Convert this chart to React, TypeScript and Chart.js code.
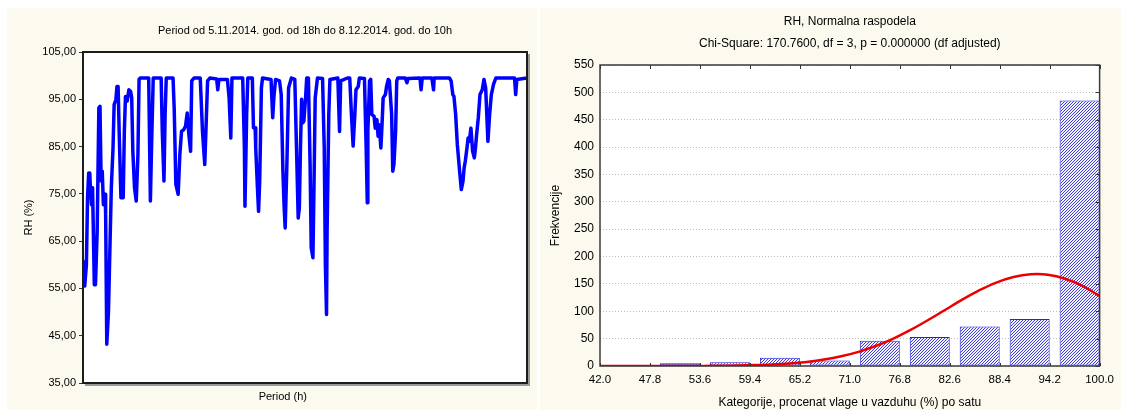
import React, { useEffect, useRef } from "react";
import { Chart, registerables } from "chart.js";

Chart.register(...registerables);

const FONT = "'Liberation Sans', Arial, Helvetica, sans-serif";
const CREAM = "#fcf9ee";

// ---------------- Left chart: RH time series ----------------
const leftTitle = "Period od 5.11.2014. god. od 18h do 8.12.2014. god. do 10h";
const leftYTitle = "RH (%)";
const leftXTitle = "Period (h)";
const totalHours = 784;
const leftYTicks = [35, 45, 55, 65, 75, 85, 95, 105];
const leftYTickLabels = ["35,00", "45,00", "55,00", "65,00", "75,00", "85,00", "95,00", "105,00"];

// hour from start of period
const rhHours = [
  0, 3, 6, 8, 10, 12, 13, 15, 16, 17, 20, 22, 25, 28, 30, 32, 34, 36, 39, 40,
  42, 45, 47, 50, 53, 55, 58, 60, 62, 64, 67, 71, 73, 75, 78, 81, 84, 86, 88, 91,
  94, 97, 99, 101, 116, 119, 121, 124, 138, 140, 143, 145, 147, 159, 161, 164, 168, 171, 174, 178,
  181, 184, 187, 190, 192, 196, 207, 211, 215, 217, 220, 224, 236, 238, 240, 255, 258, 261, 263, 282,
  285, 286, 289, 291, 299, 301, 304, 305, 308, 310, 312, 315, 317, 332, 335, 337, 340, 347, 350, 353,
  355, 357, 360, 363, 368, 374, 377, 380, 382, 384, 386, 388, 390, 393, 395, 398, 401, 403, 406, 408,
  410, 414, 423, 426, 428, 430, 431, 434, 436, 450, 453, 455, 467, 471, 474, 477, 480, 482, 486, 488,
  497, 500, 502, 503, 506, 508, 510, 514, 516, 519, 521, 523, 526, 528, 530, 534, 536, 539, 541, 545,
  547, 549, 552, 554, 556, 569, 572, 574, 595, 597, 599, 616, 619, 620, 647, 650, 653, 655, 658, 661,
  665, 668, 671, 673, 675, 678, 680, 682, 685, 688, 691, 693, 695, 698, 701, 705, 708, 711, 713, 715,
  718, 721, 725, 729, 762, 764, 766, 784,
];
// relative humidity (%)
const rhValues = [
  60.8, 55.5, 60, 74, 79.4, 79.4, 76.3, 72.7, 76.3, 75.6, 55.8, 55.8, 67, 93.2, 93.5, 77.7, 79.8, 72.7, 74.9, 70.6,
  43.2, 50.2, 60.8, 76.3, 84.7, 93.9, 94.9, 97.7, 97.7, 87.5, 74.2, 74.2, 88.2, 95.6, 94.6, 97, 96.7, 95.3, 84, 76.3,
  73.5, 83.3, 99.2, 99.5, 99.5, 73.5, 84.7, 99.5, 99.5, 88.2, 77.7, 91.8, 99.5, 99.5, 93.2, 77, 74.9, 83.3, 88.2, 88.6,
  89.3, 92.1, 87.5, 84, 98.9, 99.5, 99.5, 88.2, 81.2, 88.2, 98.9, 99.5, 99.3, 97, 99.2, 99.2, 95.3, 86.8, 99.5, 99.5,
  84.7, 72.4, 91.8, 99.5, 99.5, 89, 89, 84.7, 76.3, 71.3, 77.7, 97.4, 99.5, 99.2, 91.1, 95.3, 99.2, 98.9, 96, 79.8,
  72.7, 67.8, 81.2, 97.4, 99.5, 99.2, 84.7, 69.9, 72, 84.7, 95, 90, 90.4, 95.3, 99.5, 99.5, 81.2, 63.6, 61.5, 77.7,
  95.3, 99.5, 99.4, 84.7, 60.1, 49.5, 67, 91.8, 99.2, 99.5, 88.2, 98.9, 99.5, 99.5, 91.8, 85.1, 91.8, 97, 97.7, 99.5,
  99.4, 84.7, 73.1, 88.2, 98.9, 99.2, 91.8, 91.4, 88.9, 90.7, 87.2, 89.6, 84.7, 89.6, 95.3, 96, 97.7, 99.2, 98.9, 91.8,
  79.8, 81.2, 88.2, 98.9, 99.5, 99.5, 98.5, 99.4, 99.5, 97, 99.5, 99.5, 97, 99.5, 99.5, 98.9, 96, 95.6, 91.8, 85.4,
  79.8, 75.9, 77.7, 80.5, 81.9, 84.7, 86.8, 86.1, 88.9, 84, 82.6, 84.7, 87.5, 91.1, 96, 97, 99.2, 97.4, 91.8, 86.1,
  91.8, 96, 98.2, 99.5, 99.5, 96, 99.2, 99.5,
];

// ---------------- Right chart: histogram + normal fit ----------------
const rightTitle = ["RH, Normalna raspodela", "Chi-Square: 170.7600, df = 3, p = 0.000000 (df adjusted)"];
const rightYTitle = "Frekvencije";
const rightXTitle = "Kategorije, procenat vlage u vazduhu (%) po satu";
const binWidth = 5.8;
const binStarts = [42.0, 47.8, 53.6, 59.4, 65.2, 71.0, 76.8, 82.6, 88.4, 94.2];
const binCounts = [0, 5, 7, 15, 10, 46, 53, 72, 86, 485];
const xTickLabels = ["42.0", "47.8", "53.6", "59.4", "65.2", "71.0", "76.8", "82.6", "88.4", "94.2", "100.0"];
const yMax = 550;
const yStep = 50;
// expected frequencies (normal curve)
const normalX = [42, 44, 46, 48, 50, 52, 54, 56, 58, 60, 62, 64, 66, 68, 70, 72, 74, 76, 78, 80, 82, 84, 86, 88, 90, 92, 94, 96, 98, 100];
const normalY = [0, 0, 0, 0, 0.1, 0.1, 0.2, 0.5, 0.9, 1.6, 2.7, 4.6, 7.5, 11.7, 17.7, 25.9, 36.5, 49.7, 65.4, 83.1, 101.9, 120.7, 138.1, 152.5, 162.7, 167.6, 166.8, 159.5, 146.5, 128];

// bars drawn in the right 80% of each class interval (as in the source)
const BAR_CENTER_FRAC = 0.6;

function plotBackground(id: string) {
  return {
    id,
    beforeDraw(chart: any) {
      const { ctx, chartArea: a } = chart;
      ctx.save();
      ctx.fillStyle = "#ffffff";
      ctx.fillRect(a.left, a.top, a.right - a.left, a.bottom - a.top);
      ctx.restore();
    },
  };
}

const leftFrame = {
  id: "leftFrame",
  afterDraw(chart: any) {
    const { ctx, chartArea: a } = chart;
    ctx.save();
    // shadow
    ctx.strokeStyle = "#9a9a9a";
    ctx.lineWidth = 2;
    ctx.beginPath();
    ctx.moveTo(a.right + 2, a.top + 2);
    ctx.lineTo(a.right + 2, a.bottom + 2);
    ctx.lineTo(a.left + 2, a.bottom + 2);
    ctx.stroke();
    ctx.strokeStyle = "#1c1c1c";
    ctx.lineWidth = 2;
    ctx.strokeRect(a.left, a.top, a.right - a.left, a.bottom - a.top);
    // x title
    ctx.fillStyle = "#000";
    ctx.font = `11px ${FONT}`;
    ctx.textAlign = "center";
    ctx.textBaseline = "middle";
    ctx.fillText(leftXTitle, a.left + (a.right - a.left) * 0.45, a.bottom + 14);
    ctx.restore();
  },
};

const rightFrame = {
  id: "rightFrame",
  afterDraw(chart: any) {
    const { ctx, chartArea: a, scales } = chart;
    ctx.save();
    ctx.strokeStyle = "#333";
    ctx.lineWidth = 1;
    // inner ticks: top and bottom at x ticks, right at y ticks
    ctx.beginPath();
    scales.x.ticks.forEach((t: any) => {
      const px = Math.round(scales.x.getPixelForValue(t.value)) + 0.5;
      ctx.moveTo(px, a.top);
      ctx.lineTo(px, a.top + 4);
      ctx.moveTo(px, a.bottom);
      ctx.lineTo(px, a.bottom - 3);
    });
    scales.y.ticks.forEach((t: any) => {
      const py = Math.round(scales.y.getPixelForValue(t.value)) + 0.5;
      ctx.moveTo(a.right, py);
      ctx.lineTo(a.right - 4, py);
    });
    ctx.stroke();
    ctx.strokeStyle = "#3a3a3a";
    ctx.lineWidth = 1.5;
    ctx.strokeRect(a.left, a.top, a.right - a.left, a.bottom - a.top);
    ctx.restore();
  },
};

function makeHatch(): CanvasPattern | string {
  const pc = document.createElement("canvas");
  pc.width = 3;
  pc.height = 3;
  const c = pc.getContext("2d");
  if (!c) return "#8c8ce6";
  c.fillStyle = "#f4f4ff";
  c.fillRect(0, 0, 3, 3);
  c.strokeStyle = "#3a3ae0";
  c.lineWidth = 1;
  c.beginPath();
  c.moveTo(0, 3);
  c.lineTo(3, 0);
  c.moveTo(-1, 1);
  c.lineTo(1, -1);
  c.moveTo(2, 4);
  c.lineTo(4, 2);
  c.stroke();
  const p = c.createPattern(pc, "repeat");
  return p || "#8c8ce6";
}

export default function App() {
  const leftRef = useRef<HTMLCanvasElement>(null);
  const rightRef = useRef<HTMLCanvasElement>(null);

  useEffect(() => {
    Chart.defaults.color = "#000";
    Chart.defaults.font.family = FONT;

    const left = new Chart(leftRef.current as HTMLCanvasElement, {
      type: "line",
      data: {
        datasets: [
          {
            data: rhHours.map((h, i) => ({ x: h, y: rhValues[i] })),
            borderColor: "#0000ff",
            borderWidth: 3.5,
            pointRadius: 0,
            tension: 0,
            borderJoinStyle: "round",
            borderCapStyle: "round",
            fill: false,
          },
        ],
      },
      options: {
        responsive: false,
        animation: false,
        layout: { padding: { left: 0, right: 10, top: 0, bottom: 0 } },
        plugins: {
          legend: { display: false },
          tooltip: { enabled: false },
          title: {
            display: true,
            text: leftTitle,
            fullSize: false,
            color: "#000",
            font: { family: FONT, size: 11, weight: "normal" },
            padding: { top: 16, bottom: 14.8 },
          },
        },
        scales: {
          x: {
            type: "linear",
            min: 0,
            max: totalHours,
            afterFit: (s: any) => {
              s.height = 27;
            },
            ticks: { display: false },
            grid: { display: false, drawTicks: false },
            border: { display: false },
          },
          y: {
            min: 35,
            max: 105,
            afterFit: (s: any) => {
              s.width = 76;
            },
            afterBuildTicks: (s: any) => {
              s.ticks = leftYTicks.map((v) => ({ value: v }));
            },
            ticks: {
              padding: 3,
              font: { family: FONT, size: 11 },
              color: "#000",
              callback: (v: any) => leftYTickLabels[leftYTicks.indexOf(Number(v))] ?? "",
            },
            grid: { drawOnChartArea: false, drawTicks: true, tickLength: 4, color: "#333" },
            border: { display: false },
            title: {
              display: true,
              text: leftYTitle,
              color: "#000",
              font: { family: FONT, size: 11 },
              padding: { top: 15, bottom: 0 },
            },
          },
        },
      },
      plugins: [plotBackground("leftBg"), leftFrame],
    } as any);

    const hatch = makeHatch();
    const right = new Chart(rightRef.current as HTMLCanvasElement, {
      type: "bar",
      data: {
        datasets: [
          {
            type: "line",
            data: normalX.map((x, i) => ({ x, y: normalY[i] })),
            borderColor: "#ee0000",
            borderWidth: 2.5,
            pointRadius: 0,
            tension: 0.3,
            fill: false,
            order: 0,
          },
          {
            type: "bar",
            data: binStarts.map((s, i) => ({ x: s + binWidth * BAR_CENTER_FRAC, y: binCounts[i] })),
            backgroundColor: hatch,
            borderColor: "#2323d8",
            borderWidth: 1,
            borderSkipped: false,
            barPercentage: 0.8,
            categoryPercentage: 1,
            order: 1,
          },
        ],
      },
      options: {
        responsive: false,
        animation: false,
        layout: { padding: { left: 0, right: 16, top: 0, bottom: 0 } },
        plugins: {
          legend: { display: false },
          tooltip: { enabled: false },
          title: {
            display: true,
            text: rightTitle,
            fullSize: false,
            color: "#000",
            font: { family: FONT, size: 12, weight: "normal", lineHeight: "22px" },
            padding: { top: 3, bottom: 10 },
          },
        },
        scales: {
          x: {
            type: "linear",
            min: binStarts[0],
            max: 100,
            offset: false,
            afterFit: (s: any) => {
              s.height = 44;
            },
            ticks: {
              stepSize: binWidth,
              autoSkip: false,
              maxRotation: 0,
              padding: 7,
              color: "#000",
              font: { family: FONT, size: 11.5 },
              callback: (_v: any, i: number) => xTickLabels[i] ?? "",
            },
            grid: { display: false, drawTicks: false },
            border: { display: false },
            title: {
              display: true,
              text: rightXTitle,
              color: "#000",
              font: { family: FONT, size: 12 },
              padding: { top: 0, bottom: 0 },
            },
          },
          y: {
            min: 0,
            max: yMax,
            afterFit: (s: any) => {
              s.width = 60;
            },
            ticks: {
              stepSize: yStep,
              padding: 6,
              color: "#000",
              font: { family: FONT, size: 12 },
            },
            grid: { color: "#bdbdbd", lineWidth: 1, drawTicks: false },
            border: { display: false, dash: [1, 2] },
            title: {
              display: true,
              text: rightYTitle,
              color: "#000",
              font: { family: FONT, size: 12 },
              padding: { top: 8, bottom: 0 },
            },
          },
        },
      },
      plugins: [plotBackground("rightBg"), rightFrame],
    } as any);

    return () => {
      left.destroy();
      right.destroy();
    };
  }, []);

  return (
    <div style={{ position: "absolute", left: 0, top: 0, width: 1121, height: 410, background: "#ffffff", overflow: "hidden" }}>
      <div style={{ position: "absolute", left: 7, top: 8, width: 530, height: 402, background: CREAM }}>
        <canvas ref={leftRef} width={530} height={402} style={{ display: "block" }} />
      </div>
      <div style={{ position: "absolute", left: 540, top: 8, width: 581, height: 402, background: CREAM }}>
        <canvas ref={rightRef} width={581} height={402} style={{ display: "block" }} />
      </div>
    </div>
  );
}
